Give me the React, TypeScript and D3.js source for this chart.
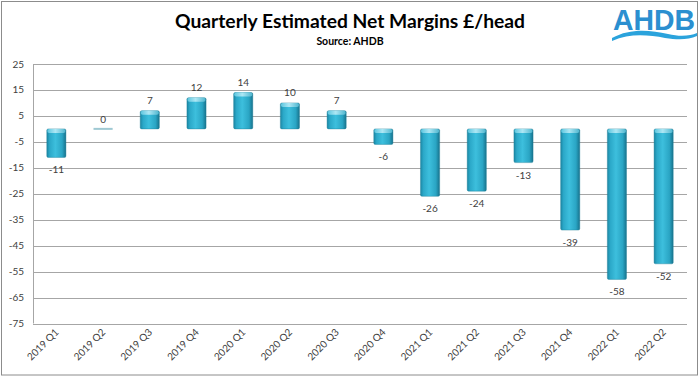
import React from "react";
import * as d3 from "d3";

const categories = ["2019 Q1","2019 Q2","2019 Q3","2019 Q4","2020 Q1","2020 Q2","2020 Q3","2020 Q4","2021 Q1","2021 Q2","2021 Q3","2021 Q4","2022 Q1","2022 Q2"];
const values = [-11, 0, 7, 12, 14, 10, 7, -6, -26, -24, -13, -39, -58, -52];
const yTicks = [25, 15, 5, -5, -15, -25, -35, -45, -55, -65, -75];
const title = "Quarterly Estimated Net Margins £/head";
const subtitle = "Source: AHDB";

export default function App() {
  const W = 700, H = 377;
  const left = 33, right = 687, top = 64, bottom = 323.5;
  const x = d3.scaleBand<string>().domain(categories).range([left, right]).paddingInner(0.59).paddingOuter(0.295);
  const y = d3.scaleLinear().domain([-75, 25]).range([bottom, top]);
  const font = "Lato, 'Open Sans', sans-serif";
  const bw = x.bandwidth();
  return (
    <svg width={W} height={H} style={{ position: "absolute", left: 0, top: 0, display: "block" }} fontFamily={font}>
      <defs>
        <linearGradient id="barG" x1="0" x2="1" y1="0" y2="0">
          <stop offset="0" stopColor="#1b86a3" />
          <stop offset="0.15" stopColor="#2ba8c8" />
          <stop offset="0.45" stopColor="#3dbfdd" />
          <stop offset="0.8" stopColor="#2aa5c4" />
          <stop offset="1" stopColor="#17728c" />
        </linearGradient>
        <linearGradient id="capG" x1="0" x2="1" y1="0" y2="0">
          <stop offset="0" stopColor="#5cc6df" />
          <stop offset="0.45" stopColor="#aee7f4" />
          <stop offset="1" stopColor="#4fb6cf" />
        </linearGradient>
      </defs>
      <rect x={1.5} y={1.5} width={696} height={373.5} fill="#fff" stroke="#8c8c8c" strokeWidth={1} />
      <text x={350} y={28} textAnchor="middle" fontWeight="bold" fontSize={19} fill="#000" textLength={350} lengthAdjust="spacingAndGlyphs">{title}</text>
      <text x={350} y={45} textAnchor="middle" fontWeight="bold" fontSize={10.5} fill="#000">{subtitle}</text>
      {/* logo */}
      <g>
        <text x={654} y={30} textAnchor="middle" fontFamily="'Liberation Sans', Arial, sans-serif" fontWeight="bold" fontSize={29} fill="#2b8fd0" textLength={82} lengthAdjust="spacingAndGlyphs">AHDB</text>
        <path d="M612,38 C630,28 650,30 668,34 C680,37 690,36 697,33 L697,36 C688,40 678,40 665,38 C648,35 630,33 612,41 Z" fill="#2ba3dc" />
      </g>
      {/* gridlines */}
      {yTicks.map(t => (
        <g key={t}>
          <line x1={left} x2={right} y1={Math.round(y(t)) + 0.5} y2={Math.round(y(t)) + 0.5} stroke="#a6a6a6" strokeWidth={1} />
          <text x={24} y={y(t) + 3.5} textAnchor="end" fontSize={10} fill="#404040">{t}</text>
        </g>
      ))}
      <line x1={left + 0.5} x2={left + 0.5} y1={top} y2={bottom} stroke="#a6a6a6" strokeWidth={1} />
      {/* bars */}
      {categories.map((c, i) => {
        const v = values[i];
        const x0 = x(c)!;
        const y0 = y(0);
        const yv = y(v);
        const yTop = Math.min(y0, yv);
        const h = Math.abs(yv - y0);
        const cx = x0 + bw / 2;
        if (v === 0) {
          return (
            <g key={c}>
              <rect x={x0} y={y0 - 1} width={bw} height={2} fill="#9fc9d3" />
              <text x={cx} y={y0 - 6} textAnchor="middle" fontSize={10} fill="#404040">{v}</text>
            </g>
          );
        }
        return (
          <g key={c}>
            <rect x={x0} y={yTop} width={bw} height={h} rx={1.5} fill="url(#barG)" stroke="#1d7f98" strokeWidth={0.4} />
            <rect x={x0 + 0.5} y={yTop} width={bw - 1} height={4} rx={2} fill="url(#capG)" />
            <text x={cx} y={v > 0 ? yv - 7 : yv + 16} textAnchor="middle" fontSize={10} fill="#404040">{v}</text>
          </g>
        );
      })}
      {/* x labels */}
      {categories.map(c => {
        const cx = x(c)! + bw / 2 + 3;
        const ty = 333;
        return (
          <text key={c} x={cx} y={ty} textAnchor="end" fontSize={10} fill="#404040" transform={`rotate(-45 ${cx} ${ty})`}>{c}</text>
        );
      })}
    </svg>
  );
}
